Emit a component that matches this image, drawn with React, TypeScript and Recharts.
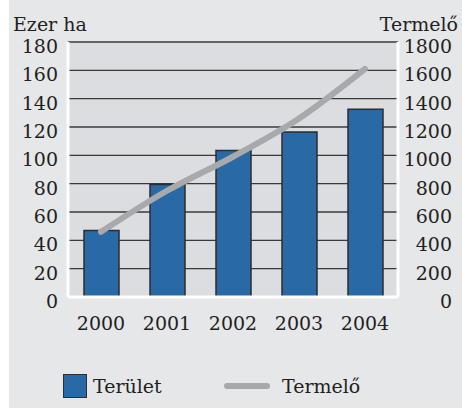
import React from 'react';
import {
  ComposedChart,
  Bar,
  Line,
  XAxis,
  YAxis,
  CartesianGrid,
  Legend,
} from 'recharts';

const years = ['2000', '2001', '2002', '2003', '2004'];
const terulet = [47, 79.5, 103.5, 116.5, 132.5];
const termelo = [460, 750, 990, 1260, 1610];
const leftTicks = [0, 20, 40, 60, 80, 100, 120, 140, 160, 180];
const rightTicks = [0, 200, 400, 600, 800, 1000, 1200, 1400, 1600, 1800];

const data = years.map((year, i) => ({
  year,
  terulet: terulet[i],
  termelo: termelo[i],
}));

const FONT = '"DejaVu Serif", "Liberation Serif", serif';
const TEXT = '#231f20';
const BLUE = '#2969a6';
const OUTLINE = '#2d2d2d';
const GREY_LINE = '#a7a9ac';

const LeftTick = ({ x, y, payload }: any) => (
  <text x={x} y={y + 11} textAnchor="end" fontFamily={FONT} fontSize={19} fill={TEXT}>
    {payload.value}
  </text>
);

const RightTick = ({ x, y, payload }: any) => (
  <text x={x + 54} y={y + 11} textAnchor="end" fontFamily={FONT} fontSize={19} fill={TEXT}>
    {payload.value}
  </text>
);

const BottomTick = ({ x, y, payload }: any) => (
  <text x={x} y={y} dy="0.71em" textAnchor="middle" fontFamily={FONT} fontSize={19} fill={TEXT}>
    {payload.value}
  </text>
);

// bars first, then the line, as in the source
const LegendContent = ({ payload }: any) => {
  const items = [...(payload || [])].sort(
    (a: any, b: any) => (a.type === 'line' ? 1 : 0) - (b.type === 'line' ? 1 : 0)
  );
  return (
    <div
      style={{
        display: 'flex',
        alignItems: 'center',
        height: 30,
        paddingLeft: 63,
        fontFamily: FONT,
        fontSize: 19,
        color: TEXT,
      }}
    >
      {items.map((entry: any) => (
        <div key={entry.value} style={{ display: 'flex', alignItems: 'center', width: 161 }}>
          {entry.type === 'line' ? (
            <span
              style={{
                display: 'inline-block',
                width: 46,
                height: 6,
                borderRadius: 3,
                background: GREY_LINE,
                marginRight: 12,
              }}
            />
          ) : (
            <span
              style={{
                display: 'inline-block',
                width: 22,
                height: 22,
                background: BLUE,
                border: `1.5px solid ${OUTLINE}`,
                marginRight: 6,
              }}
            />
          )}
          <span>{entry.value}</span>
        </div>
      ))}
    </div>
  );
};

const axisTitle = (text: string, side: 'left' | 'right') => (props: any) => {
  const vb = props.viewBox || {};
  return (
    <text
      x={side === 'left' ? vb.x + 13 : vb.x + 60}
      y={vb.y - 11}
      textAnchor={side === 'left' ? 'start' : 'end'}
      fontFamily={FONT}
      fontSize={19}
      fill={TEXT}
    >
      {text}
    </text>
  );
};

const App = () => {
  return (
    <div style={{ position: 'absolute', left: 0, top: 0, width: 462, height: 410, background: '#fff' }}>
      <div
        style={{ position: 'absolute', left: 9, top: 0, width: 453, height: 408, background: '#e6e7e9' }}
      />
      <div style={{ position: 'absolute', left: 0, top: 0 }}>
        <ComposedChart
          width={462}
          height={408}
          data={data}
          margin={{ top: 42, right: 0, bottom: 41, left: 0 }}
          barSize={35}
        >
          <CartesianGrid
            yAxisId="left"
            vertical={false}
            stroke="#3a3a3a"
            strokeWidth={1.3}
            fill="#dcdde0"
            fillOpacity={1}
          />
          <XAxis
            dataKey="year"
            height={40}
            tickSize={0}
            tickMargin={20}
            tick={<BottomTick />}
            axisLine={{ stroke: '#ffffff', strokeWidth: 3 }}
            tickLine={false}
          />
          <XAxis
            xAxisId="top"
            dataKey="year"
            orientation="top"
            height={0}
            tick={false}
            tickLine={false}
            axisLine={{ stroke: '#ffffff', strokeWidth: 3 }}
          />
          <YAxis
            yAxisId="left"
            width={68}
            domain={[0, 180]}
            ticks={leftTicks}
            tickSize={0}
            tickMargin={10}
            tick={<LeftTick />}
            tickLine={false}
            axisLine={{ stroke: '#ffffff', strokeWidth: 3 }}
            label={{ content: axisTitle('Ezer ha', 'left') }}
          />
          <YAxis
            yAxisId="right"
            orientation="right"
            width={64}
            domain={[0, 1800]}
            ticks={rightTicks}
            tickSize={0}
            tickMargin={0}
            tick={<RightTick />}
            tickLine={false}
            axisLine={{ stroke: '#ffffff', strokeWidth: 3 }}
            label={{ content: axisTitle('Termelő', 'right') }}
          />
          <Bar
            yAxisId="left"
            dataKey="terulet"
            name="Terület"
            fill={BLUE}
            stroke={OUTLINE}
            strokeWidth={1.5}
            isAnimationActive={false}
          />
          <Line
            yAxisId="right"
            type="monotone"
            dataKey="termelo"
            name="Termelő"
            stroke={GREY_LINE}
            strokeWidth={6}
            strokeLinecap="round"
            dot={false}
            activeDot={false}
            legendType="line"
            isAnimationActive={false}
          />
          <Legend
            verticalAlign="bottom"
            content={<LegendContent />}
            wrapperStyle={{ top: 371, left: 0, width: 462 }}
          />
        </ComposedChart>
      </div>
    </div>
  );
};

export default App;
